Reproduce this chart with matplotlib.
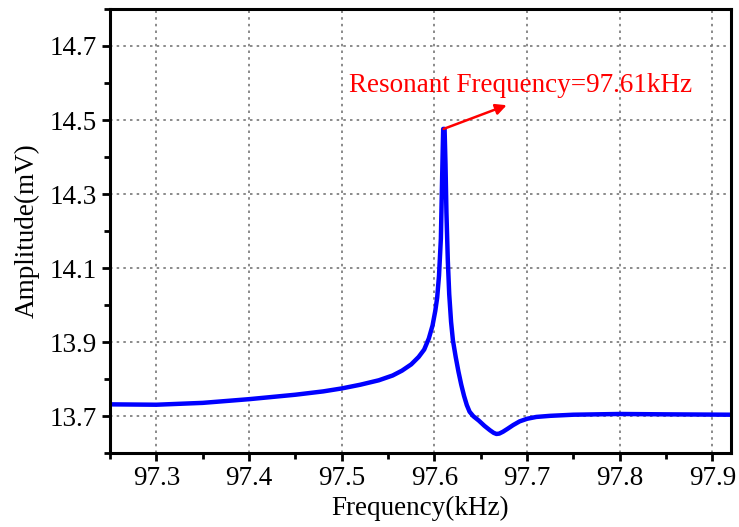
import matplotlib.pyplot as plt
from matplotlib.ticker import MultipleLocator

plt.rcParams['font.family'] = ['Liberation Serif', 'DejaVu Serif']

freq = [97.25, 97.30, 97.35, 97.40, 97.45, 97.48, 97.50, 97.52, 97.54, 97.555,
        97.565, 97.575, 97.583, 97.589, 97.594, 97.598, 97.601, 97.603, 97.605,
        97.607, 97.608, 97.609, 97.6095, 97.611, 97.612, 97.613, 97.6145, 97.616,
        97.618, 97.620, 97.623, 97.626, 97.629, 97.632, 97.635, 97.638, 97.642,
        97.648, 97.654, 97.660, 97.664, 97.667, 97.670, 97.674, 97.679, 97.685,
        97.692, 97.70, 97.71, 97.725, 97.75, 97.80, 97.85, 97.92]
amp = [13.732, 13.731, 13.736, 13.746, 13.758, 13.767, 13.775, 13.785, 13.797, 13.810,
       13.823, 13.840, 13.860, 13.880, 13.910, 13.945, 13.985, 14.020, 14.080,
       14.180, 14.300, 14.420, 14.476, 14.476, 14.380, 14.250, 14.120, 14.030,
       13.955, 13.905, 13.860, 13.820, 13.785, 13.755, 13.730, 13.712, 13.700,
       13.688, 13.674, 13.662, 13.655, 13.652, 13.653, 13.658, 13.666, 13.676,
       13.686, 13.693, 13.698, 13.701, 13.704, 13.706, 13.705, 13.704]

peak_f = 97.61
peak_a = 14.476

fig = plt.figure(figsize=(7.39, 5.27), dpi=100)
ax = fig.add_axes([0.149, 0.140, 0.840, 0.843])

ax.plot(freq, amp, color='#0000ff', lw=3.2, solid_joinstyle='round',
        solid_capstyle='round')

ax.set_xlim(97.25, 97.92)
ax.set_ylim(13.6, 14.8)
ax.xaxis.set_major_locator(MultipleLocator(0.1))
ax.xaxis.set_minor_locator(MultipleLocator(0.05))
ax.yaxis.set_minor_locator(MultipleLocator(0.1))
ax.set_yticks([13.7, 13.9, 14.1, 14.3, 14.5, 14.7])

ax.grid(True, which='major', color='#777777', linestyle=(0, (1.5, 2.5)), lw=1.2)
ax.tick_params(which='major', direction='out', length=6, width=2, labelsize=19.5,
               top=False, right=False)
ax.tick_params(which='minor', direction='out', length=4, width=2,
               top=False, right=False)
for s in ax.spines.values():
    s.set_linewidth(2.2)

ax.set_xlabel('Frequency(kHz)', fontsize=19.5, labelpad=3)
ax.set_ylabel('Amplitude(mV)', fontsize=19.5, labelpad=7)

ax.annotate('', xy=(97.678, 14.54), xytext=(peak_f, peak_a),
            arrowprops=dict(arrowstyle='-|>', color='red', lw=1.8,
                            mutation_scale=16, shrinkA=0, shrinkB=0))
ax.text(97.508, 14.592, 'Resonant Frequency=97.61kHz', color='red',
        fontsize=19.5, va='center', ha='left')

fig.savefig('out.png', dpi=100)
